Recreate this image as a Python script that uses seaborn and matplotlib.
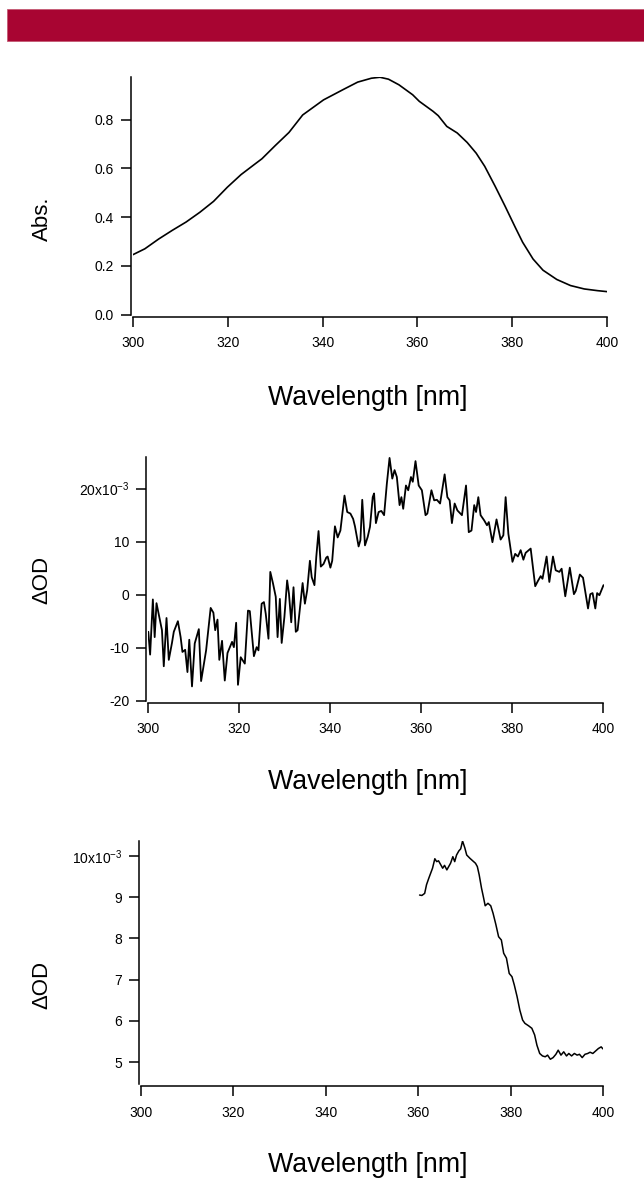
import numpy as np
import pandas as pd
import matplotlib
matplotlib.use("Agg")
import matplotlib.pyplot as plt
from matplotlib.patches import Rectangle
import seaborn as sns

# ----------------------------------------------------------
# Data
# ----------------------------------------------------------
# Panel 1: steady-state absorption spectrum
abs_wl = [300.0, 302.5, 305.4, 308.3, 311.2, 314.1, 317.0, 319.9, 322.8, 325.7,
          327.2, 330.0, 332.9, 335.8, 340.2, 344.5, 347.4, 350.3, 352.1, 353.9,
          356.1, 359.0, 360.4, 363.3, 364.4, 366.2, 368.4, 370.5, 372.4, 374.2,
          376.4, 378.5, 380.7, 382.2, 384.4, 386.5, 389.4, 392.3, 395.2, 398.0,
          400.0]
abs_val = [0.246, 0.270, 0.310, 0.346, 0.380, 0.420, 0.465, 0.523, 0.575, 0.618,
           0.640, 0.694, 0.748, 0.820, 0.882, 0.926, 0.955, 0.971, 0.975, 0.967,
           0.944, 0.903, 0.876, 0.835, 0.817, 0.773, 0.746, 0.707, 0.663, 0.609,
           0.527, 0.445, 0.356, 0.297, 0.228, 0.182, 0.144, 0.119, 0.105, 0.098,
           0.094]

# Panel 2: transient difference spectrum (units of 1e-3)
mid_wl = [300.0, 300.4, 301.0, 301.4, 301.8, 302.4, 303.0, 303.4, 304.0, 304.5,
          305.2, 305.6, 306.5, 307.1, 307.5, 308.1, 308.6, 309.0, 309.6, 310.2,
          311.1, 311.6, 312.7, 313.7, 314.3, 314.7, 315.2, 315.6, 316.2, 316.8,
          317.4, 318.4, 318.8, 319.3, 319.7, 320.3, 321.2, 321.9, 322.3, 323.2,
          323.8, 324.2,
          324.9, 325.4, 325.8, 326.4, 326.8, 327.4, 328.0, 328.4, 328.9, 329.3,
          329.9, 330.5, 330.9, 331.4, 331.9, 332.4, 332.8, 333.3, 333.9, 334.4,
          334.9, 335.5, 335.9, 336.5, 336.9, 337.4, 337.9, 338.5, 339.1, 339.4,
          340.0, 340.4, 341.0, 341.6, 342.2, 343.1, 343.7, 344.4, 345.0, 345.4,
          346.2, 346.6, 347.0, 347.6, 348.2,
          348.7, 349.3, 349.6, 350.0, 350.6, 351.2, 351.8, 352.4, 353.0, 353.6,
          354.1, 354.6, 355.2, 355.6, 356.0, 356.6, 357.1, 357.7, 358.1, 358.7,
          359.4, 360.1, 360.9, 361.3, 362.2, 362.8, 363.4, 364.1, 365.1, 365.7,
          366.2, 366.7, 367.3, 367.9, 368.9, 369.8, 370.4, 371.0, 371.6, 372.0,
          372.5, 373.0, 373.8, 374.4, 374.8,
          375.6, 376.5, 377.4, 378.0, 378.5, 379.1, 380.0, 380.6, 381.2, 381.8,
          382.4, 382.9, 384.0, 385.0, 385.6, 386.2, 386.6, 387.5, 388.1, 388.9,
          389.5, 390.3, 390.8, 391.6, 392.6, 393.5, 393.9, 394.8, 395.5, 396.6,
          397.1, 397.6, 398.2, 398.6, 399.1, 400.0]
mid_val = [-7.0, -11.3, -0.9, -8.0, -1.6, -4.2, -6.7, -13.5, -4.4, -12.3,
           -9.1, -7.0, -5.0, -8.0, -10.8, -10.4, -14.6, -8.5, -17.3, -9.2,
           -6.5, -16.3, -10.5, -2.5, -3.4, -6.7, -4.7, -12.3, -8.7, -16.2,
           -11.0, -8.9, -9.9, -5.3, -17.0, -11.8, -13.0, -3.0, -3.1, -11.6,
           -9.9, -10.5,
           -1.7, -1.4, -3.6, -8.3, 4.3, 2.1, -0.4, -8.0, -0.8, -9.1,
           -4.2, 2.7, 0.2, -5.2, 1.4, -7.0, -6.7, -2.6, 2.2, -1.7,
           0.8, 6.4, 3.3, 1.8, 7.1, 12.0, 5.3, 5.8, 7.0, 7.2,
           5.1, 6.4, 12.9, 10.8, 12.1, 18.7, 15.6, 15.3, 14.3, 12.9,
           9.1, 10.3, 17.9, 9.3, 10.9,
           12.8, 18.4, 19.1, 13.5, 15.6, 15.8, 15.0, 20.9, 25.8, 21.9,
           23.5, 22.2, 16.9, 18.4, 16.2, 20.6, 19.7, 22.2, 21.3, 25.2,
           20.6, 19.7, 15.0, 15.3, 19.7, 17.8, 17.9, 17.2, 22.7, 18.4,
           17.8, 13.5, 17.2, 15.9, 15.0, 20.6, 11.8, 12.1, 16.9, 15.6,
           18.4, 15.0, 14.0, 13.1, 13.7,
           9.9, 14.2, 10.4, 11.2, 18.4, 11.5, 6.2, 7.7, 7.2, 8.4,
           6.6, 7.9, 8.7, 1.6, 2.6, 3.5, 3.0, 7.2, 2.4, 7.2,
           4.6, 4.3, 4.9, -0.3, 5.1, 0.1, 0.7, 3.8, 3.2, -2.6,
           0.1, 0.3, -2.6, 0.3, -0.1, 1.8]

# Panel 3: transient difference spectrum, 360-400 nm (units of 1e-3)
low_wl = [360.3, 360.8, 361.4, 361.8, 362.3, 362.7, 363.1, 363.6, 364.0, 364.4,
          364.9, 365.3, 365.7, 366.2, 366.6, 367.0, 367.5, 367.9, 368.3, 368.8,
          369.2, 369.6, 370.1, 370.5, 371.2, 371.8, 372.4, 372.8, 373.2, 373.7,
          374.1, 374.5, 375.1, 375.7, 376.2, 376.8, 377.4, 378.0, 378.5, 379.1,
          379.7, 380.3, 380.8, 381.4, 382.0, 382.6, 383.1, 383.9, 384.6, 385.2,
          385.7, 386.3, 386.9, 387.5, 388.0, 388.6, 389.2, 389.8, 390.3, 390.9,
          391.5, 392.1, 392.6, 393.2, 393.8, 394.4, 394.9, 395.5, 396.1, 396.7,
          397.2, 397.8, 398.4, 399.0, 399.6, 400.0]
low_val = [9.05, 9.04, 9.09, 9.30, 9.46, 9.58, 9.70, 9.93, 9.86, 9.88,
           9.78, 9.70, 9.77, 9.66, 9.74, 9.82, 9.98, 9.86, 10.02, 10.12,
           10.17, 10.36, 10.19, 10.02, 9.94, 9.88, 9.82, 9.74, 9.54, 9.22,
           9.01, 8.79, 8.85, 8.79, 8.61, 8.34, 8.04, 7.96, 7.64, 7.52,
           7.15, 7.07, 6.87, 6.59, 6.26, 6.02, 5.94, 5.88, 5.82, 5.66,
           5.41, 5.21, 5.15, 5.13, 5.17, 5.07, 5.11, 5.19, 5.29, 5.17,
           5.25, 5.15, 5.21, 5.15, 5.21, 5.17, 5.19, 5.11, 5.19, 5.21,
           5.24, 5.21, 5.27, 5.33, 5.37, 5.32]

wl_ticks = [300, 320, 340, 360, 380, 400]

# ----------------------------------------------------------
# Figure setup
# ----------------------------------------------------------
sns.set_theme(style="ticks")
plt.rcParams['font.family'] = ['Liberation Sans', 'DejaVu Sans']
plt.rcParams['text.color'] = 'black'

W, H = 644, 1182
fig = plt.figure(figsize=(W / 100, H / 100), dpi=100)


def px_axes(left, right, top, bottom):
    # axes placed from pixel edges
    return fig.add_axes([left / W, 1 - bottom / H, (right - left) / W, (bottom - top) / H])


def style_axes(ax):
    sns.despine(ax=ax)
    for side in ("left", "bottom"):
        ax.spines[side].set_linewidth(1.1)
        ax.spines[side].set_color("black")
        ax.spines[side].set_position(("outward", 1.6))
    ax.tick_params(axis="both", direction="out", length=7, width=1.1,
                   labelsize=10, colors="black")
    ax.tick_params(axis="x", pad=7)
    ax.tick_params(axis="y", pad=5)
    ax.set_xlim(300, 400)
    ax.set_xticks(wl_ticks)
    ax.set_xticklabels([str(t) for t in wl_ticks])
    ax.set_xlabel("")
    ax.set_ylabel("")
    ax.grid(False)


# red banner across the top
fig.patches.append(Rectangle((7 / W, 1 - 41 / H), (W - 7) / W, 32 / H,
                             transform=fig.transFigure, facecolor="#a80532",
                             edgecolor="#c45a74", linewidth=0.6))

# ----------------------------------------------------------
# Panel 1: Abs.
# ----------------------------------------------------------
ax1 = px_axes(133, 607, 77, 314.5)
df1 = pd.DataFrame({"wavelength": abs_wl, "abs": abs_val})
sns.lineplot(data=df1, x="wavelength", y="abs", ax=ax1, color="black",
             linewidth=1.2, estimator=None, sort=False)
style_axes(ax1)
ax1.set_ylim(0.0, 0.976)
ax1.set_yticks([0.0, 0.2, 0.4, 0.6, 0.8])
ax1.set_yticklabels(["0.0", "0.2", "0.4", "0.6", "0.8"])

# ----------------------------------------------------------
# Panel 2: dOD, full range
# ----------------------------------------------------------
ax2 = px_axes(148.3, 603.5, 457.4, 700.7)
df2 = pd.DataFrame({"wavelength": mid_wl, "dod": mid_val})
sns.lineplot(data=df2, x="wavelength", y="dod", ax=ax2, color="black",
             linewidth=1.3, estimator=None, sort=False)
style_axes(ax2)
ax2.set_ylim(-20.0, 25.9)
ax2.set_yticks([-20, -10, 0, 10, 20])
ax2.set_yticklabels(["-20", "-10", "0", "10", r"20x10$^{\mathregular{-3}}$"])

# ----------------------------------------------------------
# Panel 3: dOD, 360-400 nm
# ----------------------------------------------------------
ax3 = px_axes(141, 603, 841, 1084)
df3 = pd.DataFrame({"wavelength": low_wl, "dod": low_val})
sns.lineplot(data=df3, x="wavelength", y="dod", ax=ax3, color="black",
             linewidth=1.1, estimator=None, sort=False)
style_axes(ax3)
ax3.set_ylim(4.47, 10.36)
ax3.set_yticks([5, 6, 7, 8, 9, 10])
ax3.set_yticklabels(["5", "6", "7", "8", "9", r"10x10$^{\mathregular{-3}}$"])

# ----------------------------------------------------------
# Axis titles
# ----------------------------------------------------------
for yc in (398, 782, 1165):
    fig.text(368 / W, 1 - yc / H, "Wavelength [nm]", fontsize=19.3,
             ha="center", va="center", color="black")
fig.text(42 / W, 1 - 219 / H, "Abs.", fontsize=16, rotation=90,
         ha="center", va="center", color="black")
fig.text(42 / W, 1 - 580 / H, "\u0394OD", fontsize=16, rotation=90,
         ha="center", va="center", color="black")
fig.text(42 / W, 1 - 985 / H, "\u0394OD", fontsize=16, rotation=90,
         ha="center", va="center", color="black")

fig.savefig("out.png", dpi=100)
plt.close(fig)
print("saved out.png")
